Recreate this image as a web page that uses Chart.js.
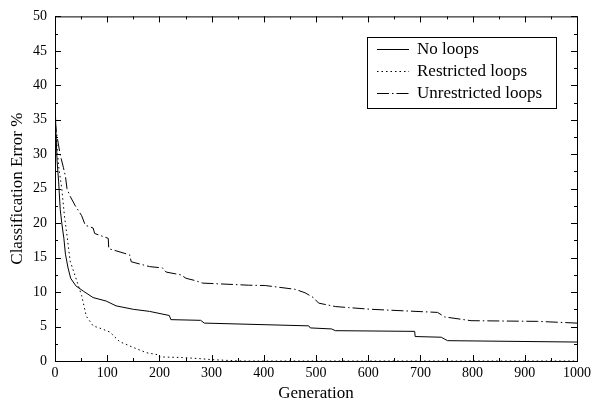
<!DOCTYPE html>
<html>
<head>
<meta charset="utf-8">
<script src="https://cdn.jsdelivr.net/npm/chart.js@4/dist/chart.umd.min.js"></script>
<style>
  html, body { margin: 0; padding: 0; background: #fff; }
  #wrap { width: 595px; height: 409px; }
</style>
</head>
<body>
<div id="wrap"><canvas id="myChart" width="595" height="409"></canvas></div>
<script>
// series: generation -> classification error %
const seriesLabels = ['No loops', 'Restricted loops', 'Unrestricted loops'];

const noLoopsGen = [0, 2, 4, 7, 10, 13, 17, 20, 25, 30, 40, 55, 73, 98, 117, 150, 181, 219, 222, 279, 286, 486, 489, 530, 537, 689, 690, 740, 752, 1000];
const noLoopsErr = [38, 33, 29, 26, 22, 20, 17.8, 15.5, 13.5, 12, 10.9, 10.1, 9.2, 8.7, 8.0, 7.5, 7.2, 6.6, 6.0, 5.9, 5.5, 5.1, 4.8, 4.65, 4.4, 4.3, 3.55, 3.45, 2.95, 2.75];

const restrictedGen = [0, 3, 7, 13, 18, 23, 29, 41, 51, 60, 73, 92, 105, 124, 149, 175, 198, 200, 244, 276, 300, 340, 360, 1000];
const restrictedErr = [34, 32, 28.2, 25, 21.1, 18.2, 14.5, 11.8, 9.5, 6.5, 5.1, 4.6, 4.2, 2.8, 2.0, 1.2, 0.9, 0.6, 0.5, 0.35, 0.2, 0.05, 0, 0];

const unrestrictedGen = [0, 3, 10, 16, 20, 23, 29, 39, 51, 58, 73, 76, 102, 103, 143, 146, 181, 206, 213, 241, 251, 267, 283, 371, 403, 460, 479, 495, 505, 537, 562, 606, 733, 746, 797, 924, 1000];
const unrestrictedErr = [35, 33, 29.9, 28.1, 26.8, 25, 23.9, 22.5, 21.1, 19.7, 19.3, 18.5, 17.8, 16.3, 15.4, 14.4, 13.7, 13.5, 12.9, 12.5, 12.0, 11.7, 11.3, 11.0, 10.95, 10.4, 9.9, 9.2, 8.4, 7.9, 7.75, 7.5, 7.05, 6.4, 5.85, 5.75, 5.5];

const serif = '"Liberation Serif", "Times New Roman", serif';

function toPoints(xs, ys) {
  return xs.map((x, i) => ({ x: x, y: ys[i] }));
}

// frame with inward ticks on all four sides
const framePlugin = {
  id: 'frame',
  afterDraw(chart) {
    const ctx = chart.ctx;
    const a = chart.chartArea;
    const xs = chart.scales.x;
    const ys = chart.scales.y;
    ctx.save();
    ctx.strokeStyle = '#000';
    ctx.lineWidth = 1;
    ctx.strokeRect(a.left + 0.5, a.top + 0.5, a.right - a.left, a.bottom - a.top);
    ctx.beginPath();
    for (let g = 0; g <= 1000; g += 50) {
      const px = Math.round(xs.getPixelForValue(g)) + 0.5;
      const len = g % 100 === 0 ? 6 : 3;
      ctx.moveTo(px, a.bottom);
      ctx.lineTo(px, a.bottom - len);
      ctx.moveTo(px, a.top);
      ctx.lineTo(px, a.top + len);
    }
    for (let v = 0; v <= 50; v += 2.5) {
      const py = Math.round(ys.getPixelForValue(v)) + 0.5;
      const len = v % 5 === 0 ? 6 : 3;
      ctx.moveTo(a.left, py);
      ctx.lineTo(a.left + len, py);
      ctx.moveTo(a.right, py);
      ctx.lineTo(a.right - len, py);
    }
    ctx.stroke();
    ctx.restore();
  }
};

// boxed legend inside the plot, upper right
const boxLegend = {
  id: 'boxLegend',
  afterDraw(chart) {
    const ctx = chart.ctx;
    const box = { x: 367.5, y: 37.5, w: 189, h: 71 };
    ctx.save();
    ctx.fillStyle = '#fff';
    ctx.fillRect(box.x, box.y, box.w, box.h);
    ctx.strokeStyle = '#000';
    ctx.lineWidth = 1;
    ctx.strokeRect(box.x, box.y, box.w, box.h);
    ctx.font = '17px ' + serif;
    ctx.textBaseline = 'middle';
    ctx.fillStyle = '#000';
    chart.data.datasets.forEach((ds, i) => {
      const y = Math.round(box.y + 11 + i * 22) + 0.5;
      ctx.beginPath();
      ctx.setLineDash(ds.borderDash || []);
      ctx.moveTo(377, y);
      ctx.lineTo(409, y);
      ctx.stroke();
      ctx.setLineDash([]);
      ctx.fillText(ds.label, 417, y);
    });
    ctx.restore();
  }
};

const ctx = document.getElementById('myChart').getContext('2d');
new Chart(ctx, {
  type: 'line',
  data: {
    datasets: [
      {
        label: seriesLabels[0],
        data: toPoints(noLoopsGen, noLoopsErr),
        borderColor: '#000',
        borderWidth: 1,
        borderDash: [],
        pointRadius: 0,
        tension: 0,
        fill: false
      },
      {
        label: seriesLabels[1],
        data: toPoints(restrictedGen, restrictedErr),
        borderColor: '#000',
        borderWidth: 1,
        borderDash: [1.5, 3],
        pointRadius: 0,
        tension: 0,
        fill: false
      },
      {
        label: seriesLabels[2],
        data: toPoints(unrestrictedGen, unrestrictedErr),
        borderColor: '#000',
        borderWidth: 1,
        borderDash: [12, 3, 1.5, 3],
        pointRadius: 0,
        tension: 0,
        fill: false
      }
    ]
  },
  options: {
    responsive: false,
    animation: false,
    layout: { padding: { left: 0, right: 15, top: 11, bottom: 0 } },
    plugins: {
      legend: { display: false },
      tooltip: { enabled: false }
    },
    scales: {
      x: {
        type: 'linear',
        min: 0,
        max: 1000,
        grid: { display: false, drawTicks: false, tickLength: 0 },
        border: { display: false },
        ticks: {
          stepSize: 100,
          color: '#000',
          padding: 4,
          maxRotation: 0,
          font: { family: serif, size: 14 },
          callback: v => String(v)
        },
        title: {
          display: true,
          text: 'Generation',
          color: '#000',
          padding: { top: 0, bottom: 5 },
          font: { family: serif, size: 17 }
        },
        afterFit(scale) { scale.height = 48; }
      },
      y: {
        min: 0,
        max: 50,
        grid: { display: false, drawTicks: false, tickLength: 0 },
        border: { display: false },
        ticks: {
          stepSize: 5,
          color: '#000',
          padding: 8,
          font: { family: serif, size: 14 },
          callback: v => String(v)
        },
        title: {
          display: true,
          text: 'Classification Error %',
          color: '#000',
          padding: { top: 7, bottom: 0 },
          font: { family: serif, size: 17 }
        },
        afterFit(scale) { scale.width = 55; }
      }
    }
  },
  plugins: [framePlugin, boxLegend]
});
</script>
</body>
</html>
